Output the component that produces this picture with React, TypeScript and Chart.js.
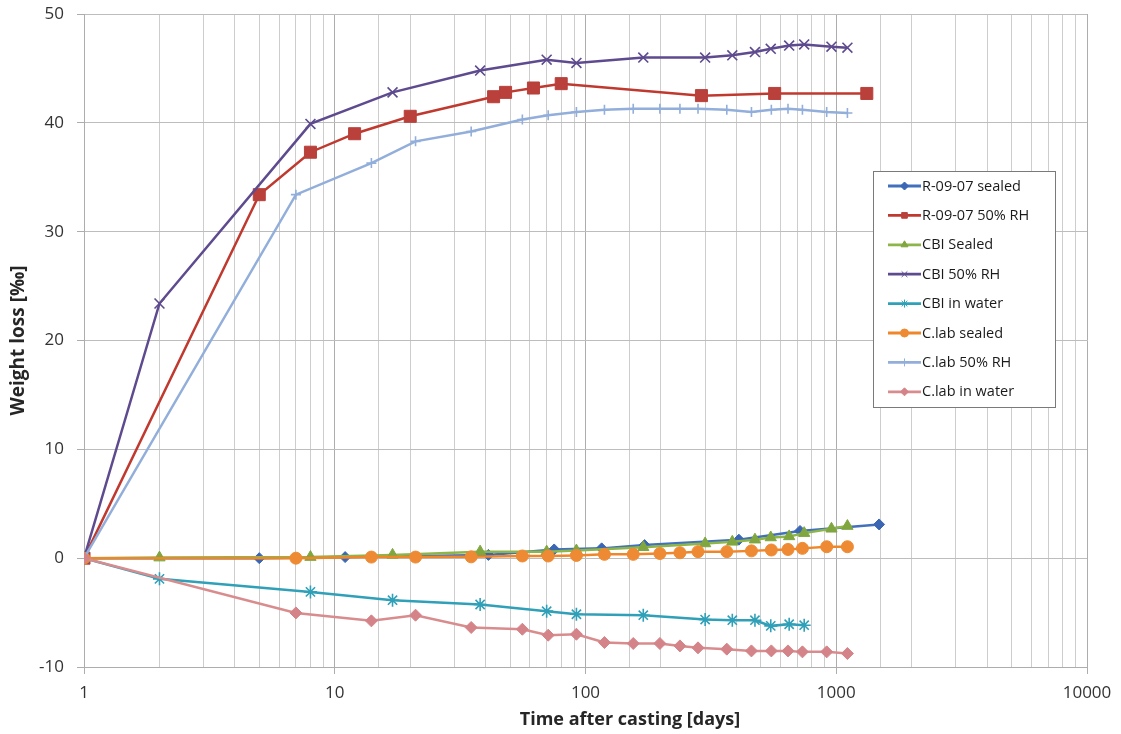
import React, { useEffect, useRef } from "react";
import { Chart, registerables } from "chart.js";
import { drawPoint } from "chart.js/helpers";

Chart.register(...registerables);

const seriesNames = [
  "R-09-07 sealed",
  "R-09-07 50% RH",
  "CBI Sealed",
  "CBI 50% RH",
  "CBI in water",
  "C.lab sealed",
  "C.lab 50% RH",
  "C.lab in water",
];

const r0907SealedDays = [1, 5, 11, 41, 75, 116, 172, 409, 717, 1482];
const r0907SealedVals = [0, 0, 0.1, 0.3, 0.8, 0.9, 1.2, 1.7, 2.5, 3.1];

const r0907RhDays = [1, 5, 8, 12, 20, 43, 48, 62, 80, 290, 568, 1324];
const r0907RhVals = [0, 33.4, 37.3, 39.0, 40.6, 42.4, 42.8, 43.2, 43.6, 42.5, 42.7, 42.7];

const cbiDays = [1, 2, 8, 17, 38, 70, 92, 170, 300, 385, 474, 548, 649, 745, 957, 1108];
const cbiSealedVals = [0, 0.05, 0.1, 0.3, 0.6, 0.6, 0.7, 1.0, 1.35, 1.5, 1.7, 1.9, 2.0, 2.3, 2.7, 2.95];
const cbiRhVals = [0, 23.4, 39.9, 42.8, 44.8, 45.8, 45.5, 46.0, 46.0, 46.2, 46.5, 46.8, 47.1, 47.2, 47.0, 46.9];
const cbiWaterDays = [1, 2, 8, 17, 38, 70, 92, 170, 300, 385, 474, 548, 649, 745];
const cbiWaterVals = [0, -1.9, -3.1, -3.86, -4.26, -4.87, -5.15, -5.24, -5.64, -5.7, -5.7, -6.22, -6.07, -6.16];

const clabDays = [1, 7, 14, 21, 35, 56, 71, 92, 119, 155, 198, 238, 281, 366, 459, 551, 642, 733, 916, 1108];
const clabSealedVals = [0, 0, 0.1, 0.1, 0.12, 0.2, 0.2, 0.25, 0.35, 0.35, 0.43, 0.5, 0.6, 0.6, 0.67, 0.75, 0.8, 0.9, 1.05, 1.05];
const clabRhVals = [0, 33.4, 36.3, 38.3, 39.2, 40.3, 40.7, 41.0, 41.2, 41.3, 41.3, 41.3, 41.3, 41.2, 41.0, 41.2, 41.3, 41.2, 41.0, 40.9];
const clabWaterVals = [0, -5.03, -5.76, -5.24, -6.37, -6.53, -7.08, -6.99, -7.75, -7.84, -7.84, -8.06, -8.24, -8.36, -8.52, -8.52, -8.52, -8.61, -8.61, -8.76];

const xTickLabels = [1, 10, 100, 1000, 10000];
const yMin = -10;
const yMax = 50;
const yStep = 10;
const xTitle = "Time after casting [days]";
const yTitle = "Weight loss [‰]";

const zip = (xs: number[], ys: number[]) => xs.map((x, i) => ({ x, y: ys[i] }));

const styles = [
  { color: "#4270BC", fill: "#3A66B4", point: "rectRot", r: 5.5 },
  { color: "#C0392F", fill: "#B9403B", point: "rect", r: 8.5 },
  { color: "#8DB548", fill: "#7FA63F", point: "triangle", r: 6.5 },
  { color: "#5E4A8E", fill: "#5E4A8E", point: "crossRot", r: 7 },
  { color: "#2FA0B8", fill: "#2FA0B8", point: "star", r: 6.5 },
  { color: "#F0862A", fill: "#EE8A33", point: "circle", r: 6 },
  { color: "#92AEDA", fill: "#92AEDA", point: "cross", r: 5 },
  { color: "#D98C8E", fill: "#D48489", point: "rectRot", r: 6 },
];

const seriesData = [
  zip(r0907SealedDays, r0907SealedVals),
  zip(r0907RhDays, r0907RhVals),
  zip(cbiDays, cbiSealedVals),
  zip(cbiDays, cbiRhVals),
  zip(cbiWaterDays, cbiWaterVals),
  zip(clabDays, clabSealedVals),
  zip(clabDays, clabRhVals),
  zip(clabDays, clabWaterVals),
];

const isPow10 = (v: number) => xTickLabels.includes(v);

const boxLegend = {
  id: "boxLegend",
  afterDraw(chart: any) {
    const ctx = chart.ctx;
    const x0 = 873;
    const y0 = 171;
    const w = 182;
    const h = 236;
    ctx.save();
    // x axis title (offset to the right as in the original)
    ctx.fillStyle = "#262626";
    ctx.font = "bold 18px 'Open Sans'";
    ctx.textAlign = "center";
    ctx.textBaseline = "middle";
    ctx.fillText(xTitle, 630, 720);

    ctx.fillStyle = "#ffffff";
    ctx.fillRect(x0, y0, w, h);
    ctx.strokeStyle = "#7a7a7a";
    ctx.lineWidth = 1;
    ctx.strokeRect(x0 + 0.5, y0 + 0.5, w, h);
    chart.data.datasets.forEach((ds: any, i: number) => {
      const cy = 186 + i * 29.4;
      ctx.strokeStyle = ds.borderColor;
      ctx.lineWidth = 2.8;
      ctx.beginPath();
      ctx.moveTo(888, cy);
      ctx.lineTo(921, cy);
      ctx.stroke();
      ctx.fillStyle = ds.pointBackgroundColor;
      ctx.strokeStyle = ds.pointBorderColor;
      ctx.lineWidth = 1;
      drawPoint(ctx, { pointStyle: ds.pointStyle, radius: 4, borderWidth: 1, rotation: 0 }, 904.5, cy);
      ctx.fillStyle = "#1a1a1a";
      ctx.font = "14.5px 'Open Sans'";
      ctx.textBaseline = "middle";
      ctx.textAlign = "left";
      ctx.fillText(ds.label, 922, cy + 0.5);
    });
    ctx.restore();
  },
};

export default function App() {
  const ref = useRef<HTMLCanvasElement | null>(null);

  useEffect(() => {
    document.body.style.margin = "0";
    const canvas = ref.current;
    if (!canvas) return;
    const chart = new Chart(canvas, {
      type: "line",
      data: {
        datasets: seriesData.map((d, i) => ({
          label: seriesNames[i],
          data: d,
          borderColor: styles[i].color,
          backgroundColor: styles[i].fill,
          pointBackgroundColor: styles[i].fill,
          pointBorderColor: styles[i].fill,
          pointStyle: styles[i].point as any,
          pointRadius: styles[i].r,
          pointBorderWidth: styles[i].point === "crossRot" || styles[i].point === "star" || styles[i].point === "cross" ? 1.6 : 1,
          borderWidth: 2.5,
          tension: 0,
          fill: false,
          order: seriesNames.length - i,
        })),
      },
      options: {
        animation: false,
        responsive: false,
        maintainAspectRatio: false,
        layout: { padding: { top: 14, right: 34, left: 0, bottom: 0 } },
        plugins: {
          legend: { display: false },
          tooltip: { enabled: false },
        },
        scales: {
          x: {
            type: "logarithmic",
            min: 1,
            max: 10000,
            afterFit: (scale: any) => {
              scale.height = 67;
              scale.paddingLeft = 0;
              scale.paddingRight = 0;
            },
            grid: {
              color: (c: any) => (c.tick && isPow10(c.tick.value) ? "#adadad" : "#cdcdcd"),
              tickColor: (c: any) => (c.tick && isPow10(c.tick.value) ? "#adadad" : "rgba(0,0,0,0)"),
              tickLength: 7,
              lineWidth: 1,
            },
            border: { color: "#adadad" },
            ticks: {
              autoSkip: false,
              maxRotation: 0,
              padding: 9,
              color: "#333333",
              font: { family: "'Open Sans'", size: 17 },
              callback: (v: any) => (isPow10(Number(v)) ? String(v) : ""),
            },
            title: { display: false },
          },
          y: {
            min: yMin,
            max: yMax,
            afterFit: (scale: any) => {
              scale.width = 84;
              scale.paddingTop = 0;
              scale.paddingBottom = 0;
            },
            grid: { color: "#bdbdbd", tickColor: "#adadad", tickLength: 7, lineWidth: 1 },
            border: { color: "#adadad" },
            ticks: {
              stepSize: yStep,
              padding: 13,
              color: "#333333",
              font: { family: "'Open Sans'", size: 17 },
            },
            title: {
              display: true,
              text: yTitle,
              color: "#262626",
              font: { family: "'Open Sans'", size: 19, weight: "bold" },
              padding: { top: 7, bottom: 7 },
            },
          },
        },
      },
      plugins: [boxLegend],
    });
    return () => chart.destroy();
  }, []);

  return (
    <div style={{ width: 1121, height: 734, background: "#ffffff" }}>
      <canvas ref={ref} width={1121} height={734} style={{ display: "block" }} />
    </div>
  );
}
